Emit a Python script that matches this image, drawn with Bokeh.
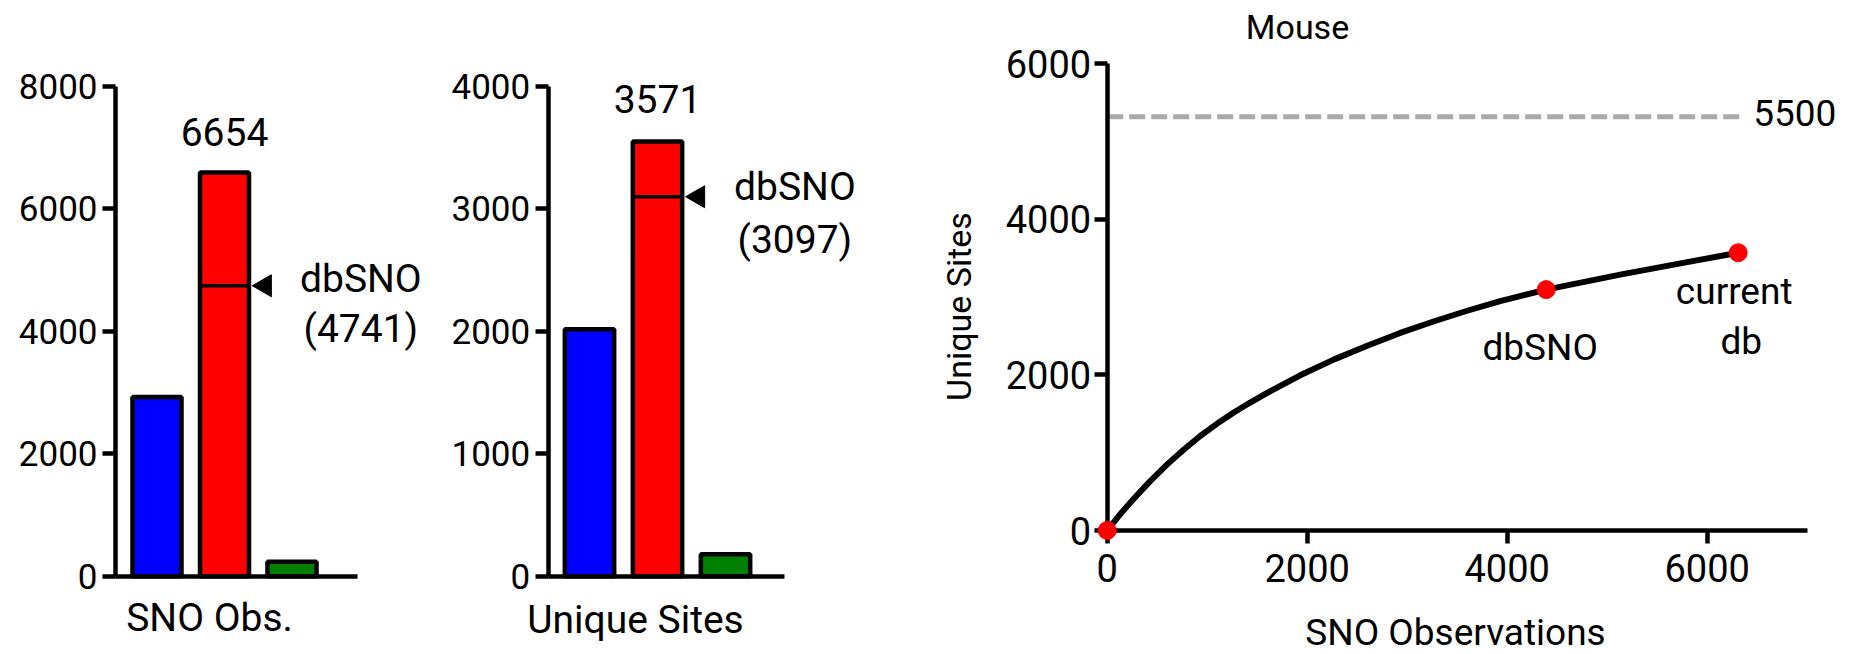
import numpy as np
from bokeh.plotting import figure
from bokeh.models import Label, Range1d, FixedTicker, ColumnDataSource
from bokeh.layouts import row
from bokeh.embed import file_html
from bokeh.resources import INLINE

# ---------------- data ----------------
bar_index = [0, 1, 2]
bar_colors = ["#0000ff", "#ff0000", "#008000"]
sno_obs = [2925, 6590, 235]
unique_sites = [2015, 3548, 180]
sno_obs_total_text = "6654"
unique_sites_total_text = "3571"
dbsno_obs = 4741
dbsno_sites = 3097
obs_ticks = [0, 2000, 4000, 6000, 8000]
site_ticks = [0, 1000, 2000, 3000, 4000]
panel_labels = ["SNO Obs.", "Unique Sites"]

curve_x = [0, 130, 270, 430, 600, 770, 930, 1100, 1270, 1430, 1600, 1930,
           2270, 2600, 2930, 3270, 3600, 3930, 4390, 5130, 5800, 6310]
curve_y = [0, 210, 415, 635, 850, 1045, 1215, 1375, 1520, 1645, 1770, 1995,
           2200, 2375, 2540, 2690, 2825, 2950, 3097, 3290, 3450, 3571]
point_x = [0, 4390, 6310]
point_y = [0, 3097, 3571]
plateau_y = 5320
plateau_x_end = 6360
plateau_text = "5500"
mouse_x_ticks = [0, 2000, 4000, 6000]
mouse_y_ticks = [0, 2000, 4000, 6000]
mouse_x_max = 7000
mouse_y_max = 6000

FONT = "Roboto"
H = 654


def make_fig(width, xr, yr):
    p = figure(width=width, height=H, x_range=Range1d(*xr),
               y_range=Range1d(*yr), toolbar_location=None,
               output_backend="svg", min_border=0)
    p.outline_line_color = None
    p.xgrid.visible = False
    p.ygrid.visible = False
    p.background_fill_color = "white"
    p.border_fill_color = "white"
    return p


def style_axis(ax, size, ticks):
    ax.ticker = FixedTicker(ticks=ticks)
    ax.minor_tick_line_color = None
    ax.major_tick_in = 0
    ax.major_tick_out = 13
    ax.major_tick_line_width = 4.5
    ax.axis_line_width = 4.5
    ax.major_label_text_font = FONT
    ax.major_label_text_font_size = size
    ax.major_label_text_color = "black"


def lab(p, **kw):
    kw.setdefault("text_align", "center")
    kw.setdefault("text_baseline", "middle")
    kw.setdefault("text_color", "black")
    kw.setdefault("text_font", FONT)
    p.add_layout(Label(level="overlay", **kw))


Y0_LEFT, YTOP_LEFT = 575.7, 85.6   # pixel rows of 0 and of the top tick


def bar_panel(values, total_text, mark, ticks, ymax, label, width, origin,
              bar0, step, axis_px, right_px, label_x, label_dy, top_dy,
              mark_dy):
    # the frame covers the whole figure; axes are pinned with fixed_location
    per_px = ymax / (Y0_LEFT - YTOP_LEFT)
    y0 = -(H - Y0_LEFT) * per_px
    y1 = ymax + YTOP_LEFT * per_px
    x0 = (origin - bar0) / step
    x1 = (origin + width - bar0) / step
    p = make_fig(width, (x0, x1), (y0, y1))
    ax_x = (axis_px - bar0) / step
    ax_r = (right_px - bar0) / step
    src = ColumnDataSource(dict(x=bar_index, top=values, color=bar_colors))
    bw = 0.726
    p.vbar(x="x", top="top", bottom=0, width=bw, fill_color="color",
           line_color="black", line_width=4.5, source=src)
    p.segment(x0=[bar_index[1] - bw / 2], x1=[bar_index[1] + bw / 2],
              y0=[mark], y1=[mark], line_color="black", line_width=3.5)
    p.scatter(x=[bar_index[1] + 0.6], y=[mark], marker="triangle",
              angle=np.pi / 2, size=22, fill_color="black", line_color="black")
    style_axis(p.yaxis, "35px", ticks)
    p.yaxis.fixed_location = ax_x
    p.yaxis.bounds = (0, ymax)
    p.yaxis.major_label_standoff = 5
    p.xaxis.fixed_location = 0
    p.xaxis.bounds = (ax_x, ax_r)
    p.xaxis.ticker = FixedTicker(ticks=[])
    p.xaxis.minor_tick_line_color = None
    p.xaxis.major_tick_line_color = None
    p.xaxis.axis_line_width = 4.5
    p.xaxis.major_label_text_font_size = "0px"
    fs = "39px"
    lab(p, x=bar_index[1], y=values[1], y_offset=top_dy, text=total_text,
        text_font_size=fs)
    lab(p, x=bar_index[1] + 2.02, y=mark, y_offset=mark_dy, text="dbSNO",
        text_font_size=fs)
    lab(p, x=bar_index[1] + 2.02, y=mark, y_offset=-43.5, text="(%d)" % mark,
        text_font_size=fs)
    lab(p, x=label_x, y=0, y_offset=label_dy, text=label, text_font_size=fs)
    return p


p1 = bar_panel(sno_obs, sno_obs_total_text, dbsno_obs, obs_ticks, 8000,
               panel_labels[0], 440, 0, 156.5, 67.5, 115, 357, 0.778, -41.5,
               40, 7)
p2 = bar_panel(unique_sites, unique_sites_total_text, dbsno_sites, site_ticks,
               4000, panel_labels[1], 460, 440, 589, 68, 547.7, 784, 0.676,
               -43.4, 42, 10)

# ---------------- saturation panel ----------------
O3 = 900
W3 = 950
X0_PX, XSTEP = 1106.7, 10.0          # data units per pixel
Y0_PX, YSTEP = 530.0, 6000 / 466.7


def X(px):
    return (px - X0_PX) * XSTEP


def Y(py):
    return (Y0_PX - py) * YSTEP


p3 = make_fig(W3, (X(O3), X(O3 + W3)), (Y(H), Y(0)))
p3.line(x=[0, plateau_x_end], y=[plateau_y, plateau_y], line_color="#aaaaaa",
        line_width=5, line_dash="16 6")
p3.line(x=curve_x, y=curve_y, line_color="black", line_width=6,
        line_join="round")
pts = p3.scatter(x=point_x, y=point_y, size=18, fill_color="#ff0000",
                 line_color="#ff0000")
pts.level = "overlay"

style_axis(p3.xaxis, "38px", mouse_x_ticks)
style_axis(p3.yaxis, "38px", mouse_y_ticks)
p3.xaxis.fixed_location = 0
p3.xaxis.bounds = (0, mouse_x_max)
p3.yaxis.fixed_location = 0
p3.yaxis.bounds = (0, mouse_y_max)
p3.yaxis.major_label_standoff = 3
p3.xaxis.major_label_standoff = 10

rf = "37px"
lab(p3, x=X(1297), y=Y(26), text="Mouse", text_font_size="34px")
lab(p3, x=X(958), y=Y(306), text="Unique Sites", text_font_size="34px",
    angle=np.pi / 2)
lab(p3, x=X(1455), y=Y(653), text="SNO Observations", text_font_size="37px",
    text_baseline="bottom")
lab(p3, x=plateau_x_end, y=plateau_y, x_offset=10, y_offset=4,
    text=plateau_text, text_font_size=rf, text_align="left")
lab(p3, x=point_x[1], y=point_y[1], x_offset=-6, y_offset=-58, text="dbSNO",
    text_font_size=rf)
lab(p3, x=point_x[2], y=point_y[2], x_offset=-4, y_offset=-39,
    text="current", text_font_size=rf)
lab(p3, x=point_x[2], y=point_y[2], x_offset=3, y_offset=-89, text="db",
    text_font_size=rf)

layout = row(p1, p2, p3)
open("out.html", "w").write(file_html(layout, INLINE))
